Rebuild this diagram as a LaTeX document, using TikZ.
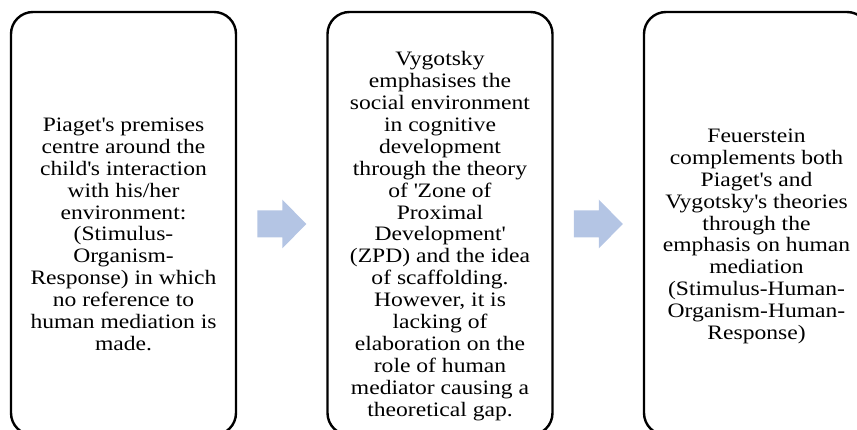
\documentclass[tikz,border=0pt]{standalone}
\usepackage{fontspec}
\setmainfont{Liberation Serif}[FakeStretch=1.15]
\usetikzlibrary{calc}
\definecolor{arrowblue}{RGB}{180,197,228}
\newcommand{\ap}{\textquotesingle}
\newcommand{\topstrut}{\rule{0pt}{16pt}}
\newcommand{\botstrut}{\rule[-6pt]{0pt}{6pt}}
\begin{document}
\begin{tikzpicture}[x=1pt,y=-1pt,
  box/.style={draw=black, line width=2.4pt, rounded corners=22pt,
    minimum width=225pt, minimum height=423pt, inner sep=0pt, outer sep=0pt,
    anchor=north west},
  txt/.style={align=center, inner sep=0pt, text=black,
    font=\fontsize{20.5pt}{21.9pt}\selectfont},
  blockarrow/.style={fill=arrowblue, draw=none}]
\useasboundingbox (0,0) rectangle (857,430);
\clip (0,0) rectangle (857,430);

\node[box] (b1) at (11,12) {};
\node[box] (b2) at (327.5,12) {};
\node[box] (b3) at (644,12) {};

\node[txt] (t1) at ($(b1.north)+(0,224)$) {\topstrut Piaget\ap s premises\\centre around the\\child\ap s interaction\\with his/her\\environment:\\(Stimulus-\\Organism-\\Response) in which\\no reference to\\human mediation is\\made.\botstrut};

\node[txt] (t2) at ($(b2.north)+(0,224)$) {\topstrut Vygotsky\\emphasises the\\social environment\\in cognitive\\development\\through the theory\\of \ap Zone of\\Proximal\\Development\ap\\(ZPD) and the idea\\of scaffolding.\\However, it is\\lacking of\\elaboration on the\\role of human\\mediator causing a\\theoretical gap.\botstrut};

\node[txt] (t3) at ($(b3.north)+(0,224)$) {\topstrut Feuerstein\\complements both\\Piaget\ap s and\\Vygotsky\ap s theories\\through the\\emphasis on human\\mediation\\(Stimulus-Human-\\Organism-Human-\\Response)\botstrut};

\coordinate (a1) at ($(b1.east)!0.5!(b2.west)+(0,0.5)$);
\coordinate (a2) at ($(b2.east)!0.5!(b3.west)+(0,0.5)$);
\foreach \a in {a1,a2}{
  \fill[blockarrow] ($(\a)+(-24.5,-13.5)$) -- ($(\a)+(0.5,-13.5)$)
    -- ($(\a)+(0.5,-24.5)$) -- ($(\a)+(24.5,0)$) -- ($(\a)+(0.5,24.5)$)
    -- ($(\a)+(0.5,13.5)$) -- ($(\a)+(-24.5,13.5)$) -- cycle;
}
\end{tikzpicture}
\end{document}
